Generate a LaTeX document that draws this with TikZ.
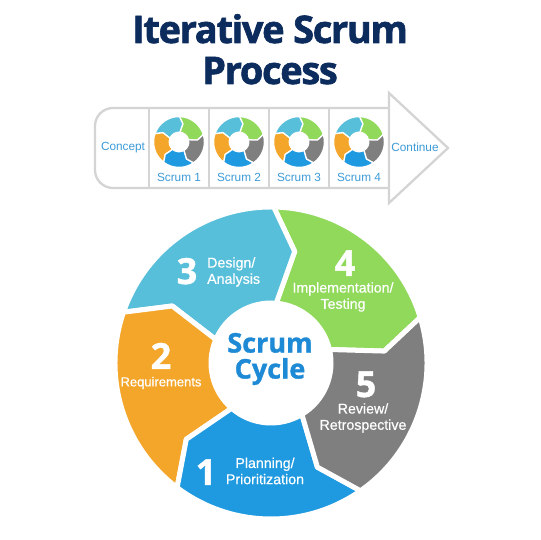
\documentclass[tikz,border=0pt]{standalone}
\usepackage{fontspec}
\setmainfont{Liberation Sans}
\newfontfamily\headfont{Open Sans}
\newfontfamily\titlefont{Open Sans}[BoldFeatures={FakeBold=1.6, LetterSpace=-3.5}]
\newfontfamily\numfont{Open Sans}[BoldFeatures={FakeBold=1.2}]
\newfontfamily\labfont{Liberation Sans}[FakeBold=0.5]
\definecolor{ccyan}{HTML}{58BFDA}
\definecolor{cgreen}{HTML}{90D95B}
\definecolor{cgray}{HTML}{7F7F7F}
\definecolor{corange}{HTML}{F4A62A}
\definecolor{cblue}{HTML}{1F9AE0}
\definecolor{ctitle}{HTML}{0C2C5E}
\definecolor{ccenter}{HTML}{1E8AD6}
\definecolor{cbanner}{HTML}{3D9BD8}
\definecolor{cline}{HTML}{D4D4D4}
\newcommand\cycleseg[3]{%
  \filldraw[fill=#2, draw=white, line width=#3, line join=round]
    ({#1+72}:156) arc[start angle={#1+72}, end angle={#1}, radius=156]
    -- ({#1-11}:114) -- ({#1-4}:60)
    arc[start angle={#1-4}, end angle={#1+68}, radius=60]
    -- ({#1+61}:114) -- cycle;}
\newcommand\cyclering[1]{%
  \cycleseg{17}{cgreen}{#1}
  \cycleseg{89}{ccyan}{#1}
  \cycleseg{161}{corange}{#1}
  \cycleseg{233}{cblue}{#1}
  \cycleseg{305}{cgray}{#1}}
\tikzset{
  bannerline/.style={draw=cline, line width=2.3pt},
  bantext/.style={text=cbanner, font=\fontsize{11.8}{13}\selectfont, inner sep=0pt},
  numtext/.style={text=white, font=\numfont\bfseries\fontsize{36}{36}\selectfont, inner sep=0pt, text height=26pt, text depth=0pt},
  labtext/.style={text=white, font=\labfont\fontsize{14.2}{16.2}\selectfont, inner sep=0pt},
  titletext/.style={text=ctitle, font=\titlefont\bfseries\fontsize{38}{41}\selectfont, inner sep=0pt, anchor=base},
}
\begin{document}
\begin{tikzpicture}[x=1pt, y=1pt]
\useasboundingbox (0,0) rectangle (540,540);
\fill[white] (0,0) rectangle (540,540);
% title
\node[titletext] (t1) at (270,497) {Iterative Scrum};
\node[titletext] (t2) at (270,456) {Process};
% banner
\draw[bannerline, rounded corners=18] (389,432) -- (95,432) -- (95,352) -- (389,352);
\draw[bannerline, line join=miter] (389,337) -- (389,447) -- (448,392) -- cycle;
\foreach \x in {149,209,269,329} \draw[bannerline] (\x,352) -- (\x,432);
\node[bantext] (concept) at (123,392) {Concept};
\node[bantext] (continue) at (415,393) {Continue};
\foreach \k in {1,2,3,4} {
  \begin{scope}[shift={({179+60*(\k-1)},398)}, scale=0.163]
    \cyclering{1.3pt}
  \end{scope}
  \node[bantext] (s\k) at ({179+60*(\k-1)},363) {Scrum \k};
}
% big cycle
\begin{scope}[shift={(271,177)}]
  \cyclering{5pt}
\end{scope}
\node[text=ccenter, font=\numfont\bfseries\fontsize{27}{26}\selectfont, align=center, inner sep=0pt] (center) at (270,181) {Scrum\\Cycle};
\node[numtext] (n3) at (187,269) {3};
\node[labtext, align=left, anchor=west] (l3) at (207,268) {Design/\\Analysis};
\node[numtext] (n4) at (345,277) {4};
\node[labtext, align=center] (l4) at (343,243) {Implementation/\\Testing};
\node[numtext] (n2) at (161,184) {2};
\node[labtext, font=\labfont\fontsize{13}{14}\selectfont] (l2) at (161,157) {Requirements};
\node[numtext] (n5) at (366,156) {5};
\node[labtext, align=center] (l5) at (363,122) {Review/\\Retrospective};
\node[numtext] (n1) at (206,68) {1};
\node[labtext, align=center] (l1) at (265,69) {Planning/\\Prioritization};
\end{tikzpicture}
\end{document}
